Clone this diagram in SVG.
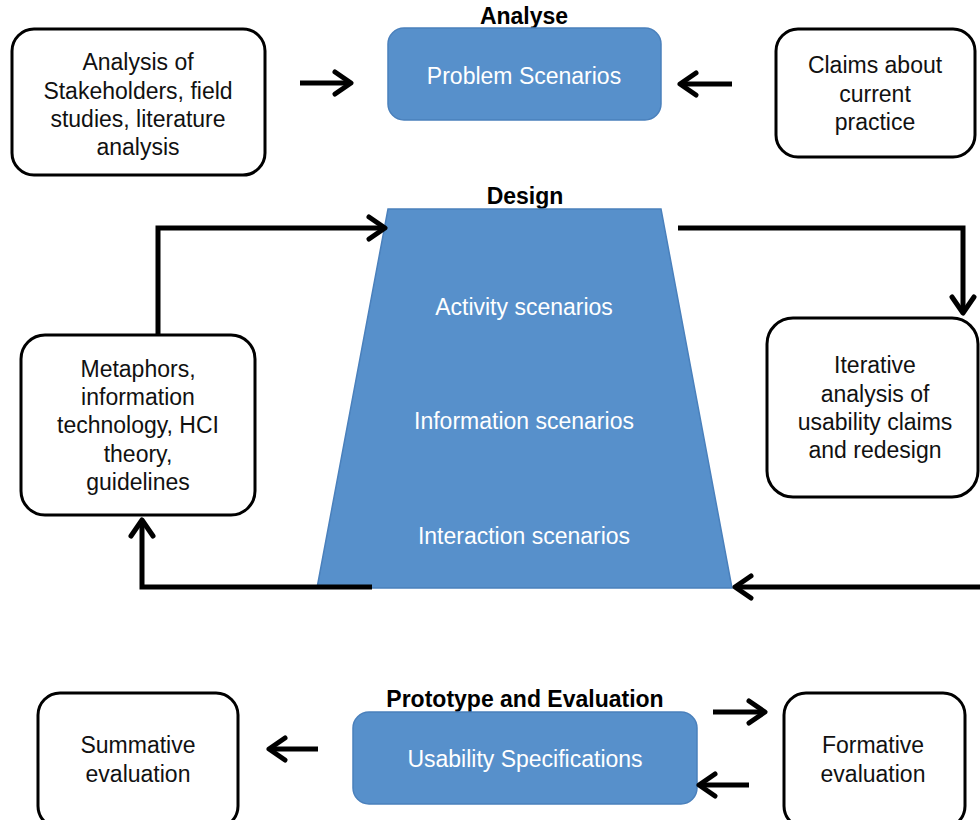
<svg xmlns="http://www.w3.org/2000/svg" width="980" height="820" viewBox="0 0 980 820">
<style>
.box{fill:#fff;stroke:#000;stroke-width:3}
.blue{fill:#5790CB;stroke:#4A80BC;stroke-width:1.5}
.t{font-family:"Liberation Sans",Arial,sans-serif;font-size:23px;fill:#111;text-anchor:middle}
.w{fill:#fff}
.h{font-family:"Liberation Sans",Arial,sans-serif;font-size:23px;font-weight:bold;fill:#000;text-anchor:middle}
.c{fill:none;stroke:#000;stroke-width:5;stroke-linejoin:miter}
</style>
<defs>
<marker id="ah" viewBox="0 0 24 28" markerWidth="24" markerHeight="28" refX="19" refY="14" orient="auto" markerUnits="userSpaceOnUse">
<path d="M3,3 L19,14 L3,25" fill="none" stroke="#000" stroke-width="5" stroke-linecap="round" stroke-linejoin="round"/>
</marker>
</defs>

<text class="h" x="524" y="24">Analyse</text>
<text class="h" x="525" y="204">Design</text>
<text class="h" x="525" y="707">Prototype and Evaluation</text>

<g id="analysis-stakeholders">
<rect class="box" x="12" y="29" width="253" height="146" rx="22"/>
<text class="t" x="138" y="70">Analysis of</text>
<text class="t" x="138" y="99">Stakeholders, field</text>
<text class="t" x="138" y="127">studies, literature</text>
<text class="t" x="138" y="155">analysis</text>
</g>

<g id="problem-scenarios">
<rect class="blue" x="388" y="28" width="273" height="92" rx="16"/>
<text class="t w" x="524" y="84">Problem Scenarios</text>
</g>

<g id="claims-current">
<rect class="box" x="776" y="29" width="199" height="128" rx="22"/>
<text class="t" x="875" y="73">Claims about</text>
<text class="t" x="875" y="102">current</text>
<text class="t" x="875" y="130">practice</text>
</g>

<g id="design-scenarios">
<polygon class="blue" points="388,209 661,209 732,588 317,588"/>
<text class="t w" x="524" y="315">Activity scenarios</text>
<text class="t w" x="524" y="429">Information scenarios</text>
<text class="t w" x="524" y="544">Interaction scenarios</text>
</g>

<g id="metaphors">
<rect class="box" x="21" y="335" width="234" height="180" rx="24"/>
<text class="t" x="138" y="377">Metaphors,</text>
<text class="t" x="138" y="405">information</text>
<text class="t" x="138" y="433">technology, HCI</text>
<text class="t" x="138" y="462">theory,</text>
<text class="t" x="138" y="490">guidelines</text>
</g>

<g id="iterative-analysis">
<rect class="box" x="767" y="318" width="211" height="179" rx="26"/>
<text class="t" x="875" y="373">Iterative</text>
<text class="t" x="875" y="402">analysis of</text>
<text class="t" x="875" y="430">usability claims</text>
<text class="t" x="875" y="458">and redesign</text>
</g>

<g id="summative">
<rect class="box" x="38" y="693" width="200" height="135" rx="22"/>
<text class="t" x="138" y="753">Summative</text>
<text class="t" x="138" y="782">evaluation</text>
</g>

<g id="usability-specifications">
<rect class="blue" x="353" y="712" width="344" height="92" rx="16"/>
<text class="t w" x="525" y="767">Usability Specifications</text>
</g>

<g id="formative">
<rect class="box" x="784" y="693" width="181" height="135" rx="22"/>
<text class="t" x="873" y="753">Formative</text>
<text class="t" x="873" y="782">evaluation</text>
</g>

<g id="connectors">
<path class="c" d="M300,83 L351,83" marker-end="url(#ah)"/>
<path class="c" d="M732,84 L680,84" marker-end="url(#ah)"/>
<path class="c" d="M158,335 L158,228 L385,228" marker-end="url(#ah)"/>
<path class="c" d="M678,228 L963,228 L963,313" marker-end="url(#ah)"/>
<path class="c" d="M372,587 L142,587 L142,520" marker-end="url(#ah)"/>
<path class="c" d="M982,587 L735,587" marker-end="url(#ah)"/>
<path class="c" d="M318,749 L269,749" marker-end="url(#ah)"/>
<path class="c" d="M713,712 L765,712" marker-end="url(#ah)"/>
<path class="c" d="M749,785 L699,785" marker-end="url(#ah)"/>
</g>
</svg>
